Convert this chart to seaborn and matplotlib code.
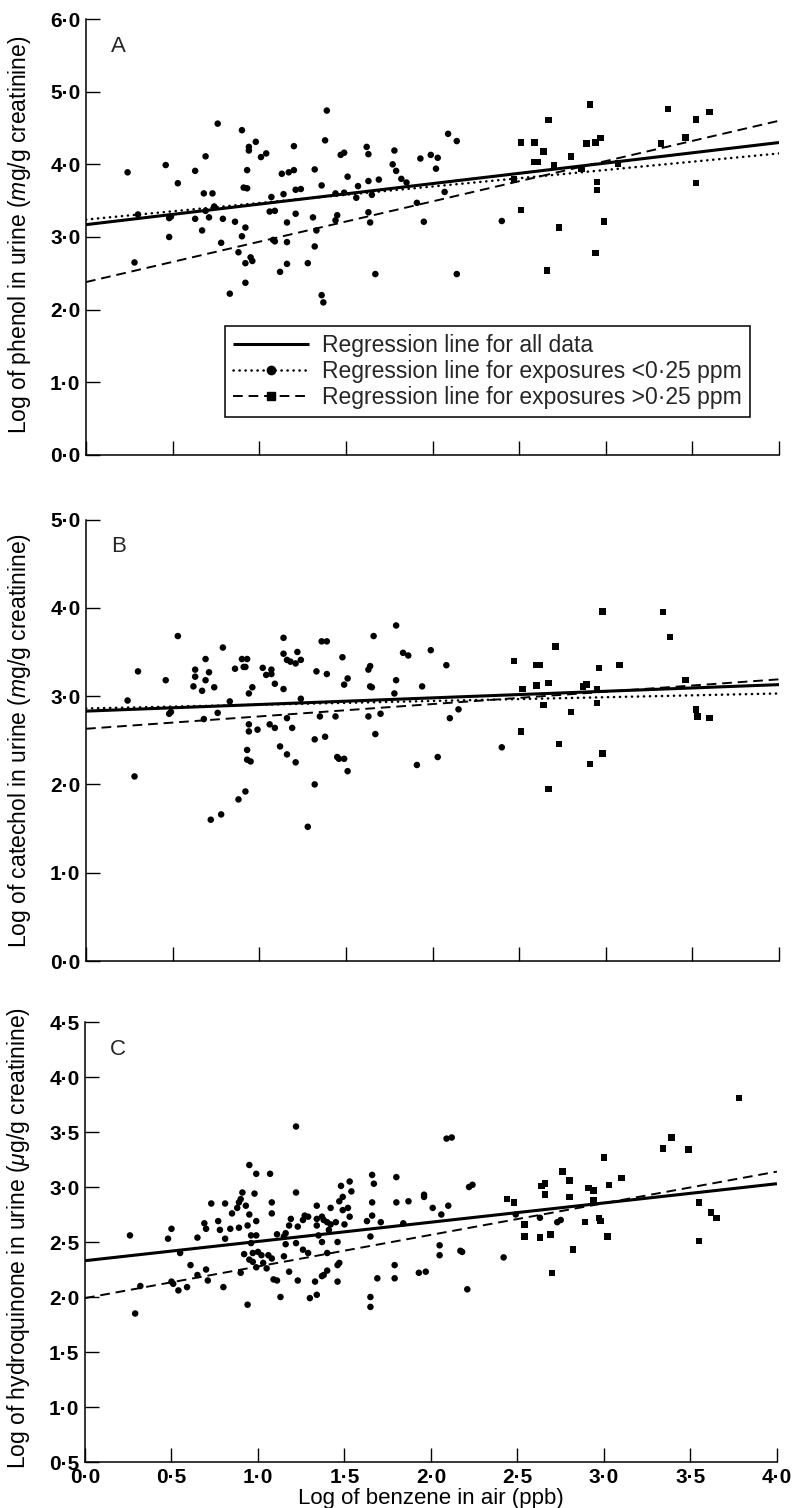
import numpy as np
import pandas as pd
import seaborn as sns
import matplotlib.pyplot as plt
from matplotlib.lines import Line2D

# ---- panel A: phenol (circles = exposure < 0.25 ppm, squares = > 0.25 ppm)
a_low_x = [0.24, 0.30, 0.28, 0.46, 0.48, 0.49, 0.48, 0.53, 0.63, 0.69, 0.68, 0.73, 0.63, 0.67,
           0.71, 0.69, 0.74, 0.76, 0.79, 0.78, 0.83, 0.86, 0.88, 0.90, 0.90, 0.94, 0.94, 0.93,
           0.91, 0.93, 0.92, 0.92, 0.92, 0.95, 0.96, 0.98, 1.01, 1.04, 1.07, 1.06, 1.09, 1.08,
           1.09, 1.12, 1.13, 1.14, 1.17, 1.20, 1.20, 1.16, 1.16, 1.16, 1.21, 1.21, 1.24, 1.28,
           1.31, 1.32, 1.32, 1.33, 1.36, 1.36, 1.37, 1.38, 1.39, 1.44, 1.45, 1.44, 1.49, 1.47,
           1.49, 1.51, 1.56, 1.57, 1.62, 1.63, 1.63, 1.65, 1.63, 1.64, 1.67, 1.69, 1.78, 1.77,
           1.79, 1.82, 1.85, 1.93, 1.99, 2.03, 2.02, 2.09, 2.14, 2.07, 1.91, 1.95, 2.14, 2.40]
a_low_y = [3.89, 3.31, 2.65, 3.99, 3.26, 3.28, 3.00, 3.74, 3.91, 4.11, 3.60, 3.60, 3.25, 3.09,
           3.27, 3.36, 3.42, 4.56, 3.25, 2.92, 2.22, 3.21, 2.79, 3.01, 4.47, 4.24, 4.19, 3.92,
           3.68, 3.67, 3.13, 2.64, 2.37, 2.72, 2.67, 4.31, 4.10, 4.15, 3.55, 3.35, 3.36, 2.96,
           2.94, 2.52, 3.87, 3.59, 3.89, 3.92, 4.25, 3.20, 2.93, 2.63, 3.32, 3.65, 3.66, 2.64,
           3.27, 3.93, 2.87, 3.09, 3.71, 2.20, 2.10, 4.33, 4.74, 3.23, 3.30, 3.60, 3.61, 4.13,
           4.16, 3.83, 3.54, 3.70, 4.24, 4.14, 3.77, 3.58, 3.34, 3.20, 2.49, 3.79, 4.19, 4.00,
           3.91, 3.80, 3.75, 4.08, 4.13, 4.09, 3.94, 4.42, 4.32, 3.62, 3.47, 3.21, 2.49, 3.22]
a_high_x = [2.51, 2.59, 2.67, 2.64, 2.59, 2.61, 2.70, 2.80, 2.47, 2.51, 2.73, 2.66, 2.89, 2.91,
            2.94, 2.97, 2.86, 2.95, 2.95, 2.99, 2.94, 3.07, 3.32, 3.36, 3.46, 3.52, 3.60, 3.52]
a_high_y = [4.30, 4.30, 4.61, 4.18, 4.03, 4.03, 3.99, 4.11, 3.79, 3.37, 3.13, 2.54, 4.29, 4.82,
            4.30, 4.36, 3.94, 3.76, 3.65, 3.21, 2.78, 4.01, 4.29, 4.76, 4.37, 4.62, 4.72, 3.74]

# ---- panel B: catechol
b_low_x = [0.24, 0.30, 0.28, 0.46, 0.48, 0.49, 0.53, 0.63, 0.63, 0.62, 0.69, 0.69, 0.71, 0.67,
           0.74, 0.68, 0.76, 0.79, 0.83, 0.86, 0.72, 0.78, 0.88, 0.92, 0.90, 0.93, 0.91, 0.92,
           0.94, 0.96, 0.94, 0.94, 0.99, 0.93, 0.93, 0.95, 1.02, 1.04, 1.07, 1.07, 1.09, 1.06,
           1.09, 1.12, 1.14, 1.14, 1.16, 1.18, 1.14, 1.16, 1.19, 1.16, 1.21, 1.21, 1.22, 1.24,
           1.24, 1.28, 1.32, 1.32, 1.33, 1.35, 1.36, 1.39, 1.39, 1.38, 1.44, 1.45, 1.46, 1.49,
           1.51, 1.48, 1.49, 1.51, 1.63, 1.64, 1.64, 1.65, 1.66, 1.63, 1.70, 1.67, 1.79, 1.79,
           1.78, 1.83, 1.86, 1.91, 1.94, 1.99, 2.03, 2.08, 2.10, 2.15, 2.40]
b_low_y = [2.95, 3.28, 2.09, 3.18, 2.80, 2.82, 3.68, 3.30, 3.22, 3.11, 3.42, 3.18, 3.27, 3.06,
           3.10, 2.74, 2.81, 3.55, 2.94, 3.31, 1.60, 1.66, 1.83, 1.92, 3.42, 3.42, 3.33, 3.33,
           3.03, 3.10, 2.68, 2.60, 2.62, 2.39, 2.28, 2.26, 3.32, 3.24, 3.30, 3.25, 3.14, 2.68,
           2.64, 2.43, 3.66, 3.48, 3.41, 3.39, 3.08, 2.75, 2.64, 2.34, 2.25, 3.37, 3.50, 3.41,
           2.97, 1.52, 2.00, 2.51, 3.28, 2.77, 3.62, 3.62, 3.25, 2.54, 2.77, 2.31, 2.29, 2.29,
           2.15, 3.44, 3.13, 3.20, 3.30, 3.34, 3.11, 3.10, 3.68, 2.77, 2.80, 2.57, 3.80, 3.18,
           3.03, 3.49, 3.46, 2.22, 3.11, 3.52, 2.31, 3.35, 2.75, 2.85, 2.42]
b_high_x = [2.47, 2.52, 2.51, 2.60, 2.62, 2.60, 2.67, 2.64, 2.71, 2.73, 2.67, 2.80, 2.87, 2.89,
            2.95, 2.96, 2.95, 2.91, 2.98, 2.98, 3.08, 3.33, 3.37, 3.46, 3.52, 3.53, 3.60]
b_high_y = [3.40, 3.08, 2.60, 3.35, 3.35, 3.12, 3.15, 2.90, 3.56, 2.46, 1.95, 2.82, 3.11, 3.13,
            3.08, 3.32, 2.92, 2.23, 2.35, 3.96, 3.35, 3.95, 3.67, 3.18, 2.85, 2.77, 2.75]

# ---- panel C: hydroquinone
c_low_x = [0.26, 0.29, 0.32, 0.48, 0.50, 0.50, 0.51, 0.54, 0.55, 0.59, 0.61, 0.65, 0.65, 0.69,
           0.70, 0.70, 0.71, 0.73, 0.77, 0.78, 0.81, 0.81, 0.80, 0.84, 0.85, 0.88, 0.89, 0.90,
           0.91, 0.89, 0.90, 0.92, 0.93, 0.94, 0.95, 0.94, 0.96, 0.95, 0.98, 0.96, 0.97, 0.99,
           0.95, 0.97, 0.99, 0.99, 0.99, 1.00, 1.02, 1.03, 1.05, 1.07, 1.08, 1.08, 1.08, 1.06,
           1.11, 1.09, 1.11, 1.13, 1.15, 1.16, 1.15, 1.16, 1.18, 1.19, 1.18, 1.22, 1.22, 1.22,
           1.23, 1.26, 1.23, 1.27, 1.29, 1.26, 1.29, 1.30, 1.34, 1.33, 1.34, 1.34, 1.34, 1.35,
           1.37, 1.38, 1.37, 1.37, 1.38, 1.40, 1.40, 1.41, 1.42, 1.40, 1.42, 1.45, 1.46, 1.46,
           1.46, 1.47, 1.47, 1.49, 1.48, 1.49, 1.50, 1.53, 1.54, 1.52, 1.53, 1.63, 1.65, 1.65,
           1.66, 1.67, 1.66, 1.66, 1.65, 1.71, 1.69, 1.80, 1.80, 1.79, 1.79, 1.84, 1.87, 1.93,
           1.97, 1.96, 1.96, 2.01, 2.06, 2.10, 2.05, 2.05, 2.09, 2.12, 2.17, 2.18, 2.21, 2.22,
           2.24, 2.42, 2.49, 2.63, 2.73, 2.75]
c_low_y = [2.56, 1.85, 2.10, 2.53, 2.62, 2.14, 2.12, 2.06, 2.40, 2.09, 2.29, 2.54, 2.20, 2.67,
           2.62, 2.25, 2.15, 2.85, 2.69, 2.61, 2.85, 2.53, 2.09, 2.62, 2.76, 2.81, 2.86, 2.89,
           2.95, 2.63, 2.22, 2.39, 2.83, 1.93, 3.20, 2.65, 2.56, 2.75, 2.94, 2.49, 2.40, 2.56,
           2.34, 2.32, 2.69, 3.12, 2.27, 2.41, 2.38, 2.31, 2.26, 3.12, 2.86, 2.76, 2.35, 2.38,
           2.57, 2.16, 2.15, 2.00, 2.55, 2.58, 2.37, 2.48, 2.65, 2.71, 2.23, 3.55, 2.95, 2.49,
           2.64, 2.70, 2.15, 2.74, 2.73, 2.43, 2.40, 1.99, 2.83, 2.14, 2.02, 2.71, 2.65, 2.56,
           2.73, 2.70, 2.50, 2.19, 2.20, 2.24, 2.68, 2.61, 2.66, 2.40, 2.81, 2.68, 2.50, 2.14,
           2.29, 2.31, 2.87, 2.91, 3.01, 2.79, 2.66, 3.05, 2.96, 2.81, 2.73, 2.69, 2.00, 1.91,
           3.11, 3.03, 2.86, 2.74, 2.55, 2.68, 2.17, 3.09, 2.86, 2.29, 2.17, 2.67, 2.87, 2.22,
           2.23, 2.93, 2.91, 2.81, 2.75, 2.83, 2.47, 2.38, 3.44, 3.45, 2.42, 2.41, 2.07, 3.00,
           3.02, 2.36, 2.75, 2.72, 2.68, 2.70]
c_high_x = [2.44, 2.48, 2.54, 2.54, 2.63, 2.64, 2.66, 2.66, 2.69, 2.70, 2.76, 2.80, 2.80, 2.82,
            2.89, 2.91, 2.94, 2.94, 2.97, 2.98, 3.00, 3.02, 3.03, 3.10, 3.34, 3.39, 3.49, 3.55,
            3.55, 3.62, 3.65, 3.78]
c_high_y = [2.89, 2.86, 2.66, 2.55, 2.54, 3.01, 3.03, 2.93, 2.57, 2.22, 3.14, 3.06, 2.91, 2.43,
            2.68, 2.99, 2.97, 2.88, 2.72, 2.69, 3.27, 2.55, 3.02, 3.08, 3.35, 3.45, 3.34, 2.86,
            2.51, 2.77, 2.72, 3.81]

# regression lines: y at x = 0 and at x = 4
fit_x = [0.0, 4.0]
a_fits = {'all': [3.17, 4.30], 'low': [3.24, 4.15], 'high': [2.38, 4.60]}
b_fits = {'all': [2.83, 3.13], 'low': [2.86, 3.03], 'high': [2.63, 3.19]}
c_fits = {'all': [2.33, 3.03], 'high': [1.99, 3.14]}

legend_labels = ['Regression line for all data',
                 'Regression line for exposures <0\u00b725 ppm',
                 'Regression line for exposures >0\u00b725 ppm']

sns.set_theme(style="ticks")
plt.rcParams['font.family'] = ['Liberation Sans', 'DejaVu Sans']
plt.rcParams['mathtext.fontset'] = 'custom'
plt.rcParams['mathtext.rm'] = 'Liberation Sans'
plt.rcParams['mathtext.it'] = 'Liberation Sans:italic'

line_kw = {
    'all': dict(color='black', lw=2.2, ls='-', solid_capstyle='butt'),
    'low': dict(color='black', lw=1.8, ls=(0, (0.1, 2.3)), dash_capstyle='round'),
    'high': dict(color='black', lw=1.4, ls=(0, (5, 3.0))),
}


def fmt(v):
    return f'{v:.1f}'.replace('.', '\u00b7')


def make_df(lx, ly, hx, hy):
    return pd.DataFrame({'x': lx + hx, 'y': ly + hy,
                         'grp': ['low'] * len(lx) + ['high'] * len(hx)})


fig = plt.figure(figsize=(7.92, 15.08), dpi=100)


def panel(rect, df, fits, ylim, yticks, ylabel, ylab_y, letter, show_x):
    ax = fig.add_axes(rect)
    sns.scatterplot(data=df, x='x', y='y', style='grp',
                    markers={'low': 'o', 'high': 's'}, color='black',
                    s=22, linewidth=0, legend=False, ax=ax, zorder=3)
    for key, ys in fits.items():
        ax.plot(fit_x, ys, zorder=2, **line_kw[key])
    ax.set_xlim(0, 4.0)
    ax.set_ylim(*ylim)
    xt = np.arange(0, 4.01, 0.5)
    if show_x:
        ax.set_xticks(xt, [fmt(v) for v in xt], fontweight='bold', fontsize=15)
    else:
        ax.set_xticks(xt, [''] * len(xt))
    ax.set_yticks(yticks, [fmt(v) for v in yticks], fontweight='bold', fontsize=15)
    ax.tick_params(direction='in', length=10, width=1.0, pad=4, colors='black')
    sns.despine(ax=ax)
    for sp in ['left', 'bottom']:
        ax.spines[sp].set_linewidth(1.1)
        ax.spines[sp].set_color('black')
    ax.set_ylabel(ylabel, fontsize=16.5, color='black')
    ax.yaxis.set_label_coords(-0.077, ylab_y)
    ax.set_xlabel('')
    ax.text(0.036, 0.962, letter, transform=ax.transAxes, ha='left', va='top',
            fontsize=16)
    return ax


ax_a = panel([0.1086, 0.69828, 0.875, 0.28912],
             make_df(a_low_x, a_low_y, a_high_x, a_high_y), a_fits,
             (0, 6), np.arange(0, 6.01, 1.0),
             'Log of phenol in urine ($\\mathit{m}$g/g creatinine)', 0.505, 'A', False)
ax_b = panel([0.1086, 0.36273, 0.875, 0.29277],
             make_df(b_low_x, b_low_y, b_high_x, b_high_y), b_fits,
             (0, 5), np.arange(0, 5.01, 1.0),
             'Log of catechol in urine ($\\mathit{m}$g/g creatinine)', 0.5, 'B', False)
ax_c = panel([0.1073, 0.03050, 0.8737, 0.29178],
             make_df(c_low_x, c_low_y, c_high_x, c_high_y), c_fits,
             (0.5, 4.5), np.arange(0.5, 4.51, 0.5),
             'Log of hydroquinone in urine ($\\mathit{\u03bc}$g/g creatinine)', 0.51, 'C', True)
ax_c.set_xlabel('Log of benzene in air (ppb)', fontsize=16, color='black')
ax_c.xaxis.set_label_coords(0.5, -0.058)

handles = [Line2D([], [], **line_kw['all']),
           Line2D([], [], marker='o', ms=6, **line_kw['low']),
           Line2D([], [], marker='s', ms=6, **line_kw['high'])]
leg = ax_a.legend(handles, legend_labels, loc='lower left', bbox_to_anchor=(0.2006, 0.0872),
                  borderaxespad=0, frameon=True, fancybox=False, edgecolor='black',
                  framealpha=1, fontsize=16.5, handlelength=3.3, handletextpad=0.6,
                  borderpad=0.35, labelspacing=0.12, numpoints=1)
leg.get_frame().set_linewidth(1.1)

fig.savefig('out.png', dpi=100)
